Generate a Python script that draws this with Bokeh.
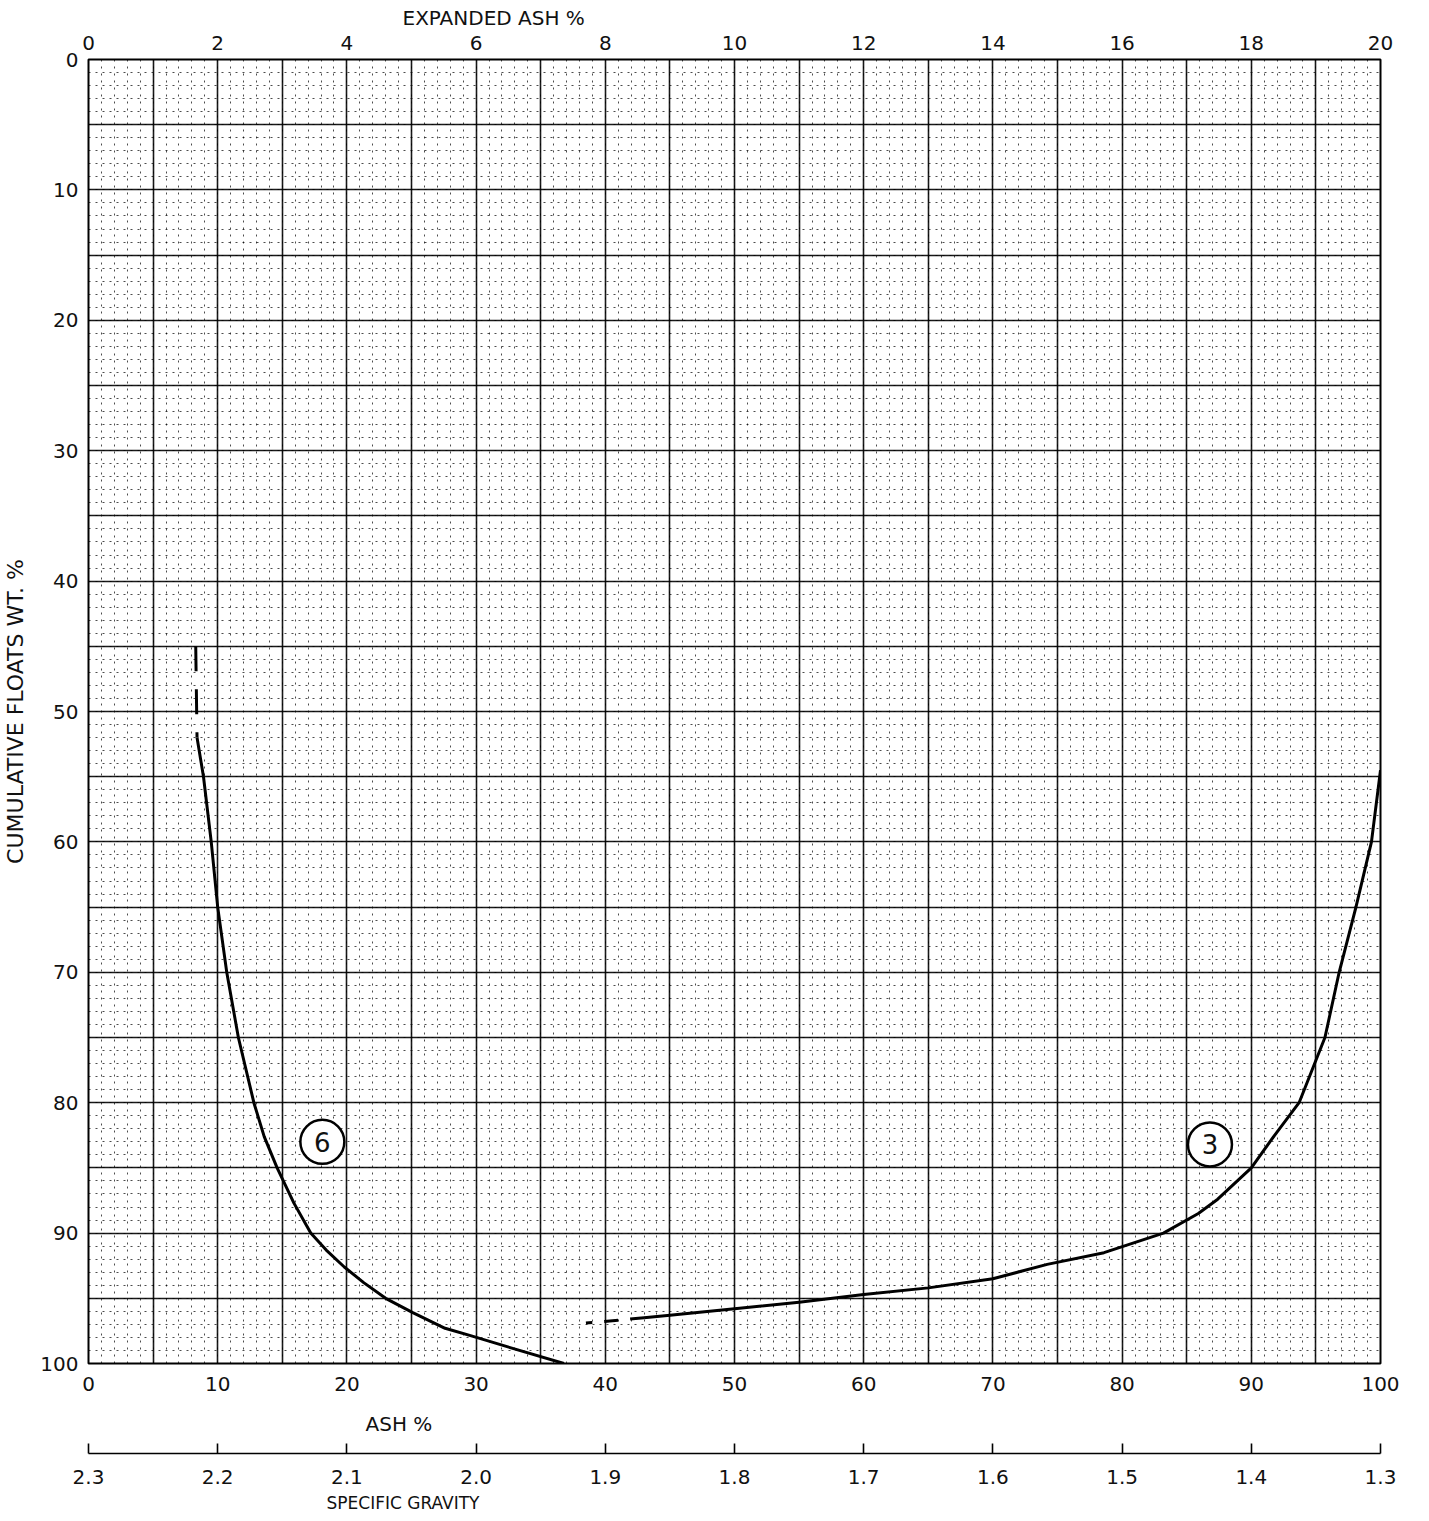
from bokeh.plotting import figure
from bokeh.models import (Range1d, LinearAxis, FixedTicker, SingleIntervalTicker,
                          NumeralTickFormatter, Title)
from bokeh.core.properties import value
from bokeh.embed import file_html
from bokeh.resources import INLINE

# ---- data ----
ash_ticks = [0, 10, 20, 30, 40, 50, 60, 70, 80, 90, 100]
cum_ticks = [0, 10, 20, 30, 40, 50, 60, 70, 80, 90, 100]
exp_ticks = [0, 2, 4, 6, 8, 10, 12, 14, 16, 18, 20]
sg_ticks = [2.3, 2.2, 2.1, 2.0, 1.9, 1.8, 1.7, 1.6, 1.5, 1.4, 1.3]

curve6_dash_ash = [8.3, 8.4]
curve6_dash_cum = [45, 52]
curve6_ash = [8.4, 8.9, 9.5, 10.0, 10.7, 11.6, 12.8, 13.6, 14.6, 15.9, 17.2, 18.4,
              19.8, 21.3, 23.0, 25.1, 27.6, 29.7, 32.7, 36.8]
curve6_cum = [52, 55, 60, 65, 70, 75, 80, 82.6, 85, 87.7, 90, 91.3,
              92.6, 93.8, 95, 96.1, 97.3, 97.9, 98.8, 100]

curve3_ash = [100, 99.3, 98.1, 96.8, 95.7, 93.7, 91.8, 90.0, 87.4, 85.9, 83.2, 78.6,
              74.2, 70, 65, 60, 55, 50, 45, 43]
curve3_cum = [54.5, 60, 65, 70, 75, 80, 82.5, 85, 87.4, 88.5, 90, 91.5,
              92.4, 93.5, 94.2, 94.7, 95.3, 95.8, 96.3, 96.5]
curve3_dash_ash = [43, 38.5]
curve3_dash_cum = [96.5, 96.9]

label_text = ["6", "3"]
label_ash = [18.1, 86.8]
label_cum = [83.0, 83.2]

FONT = "DejaVu Sans"
INK = "#111111"

p = figure(frame_width=1292, frame_height=1304,
           x_range=Range1d(0, 100), y_range=Range1d(100, 0),
           output_backend="svg", toolbar_location=None,
           min_border_left=78, min_border_top=58, min_border_right=36, min_border_bottom=140,
           background_fill_color="white", border_fill_color="white")
p.outline_line_color = "black"
p.outline_line_width = 2

p.extra_x_ranges = {"exp": Range1d(0, 20), "sg": Range1d(2.3, 1.3)}

# grids: major every 5, minor every 1
p.xgrid[0].ticker = SingleIntervalTicker(interval=5, num_minor_ticks=5)
p.ygrid[0].ticker = SingleIntervalTicker(interval=5, num_minor_ticks=5)
for g in (p.xgrid[0], p.ygrid[0]):
    g.grid_line_color = "black"
    g.grid_line_width = 1.6
    g.grid_line_alpha = 0.9
    g.minor_grid_line_color = "black"
    g.minor_grid_line_width = 1
    g.minor_grid_line_dash = "2 5"
    g.minor_grid_line_alpha = 0.7


def style_axis(ax, size="20px"):
    ax.major_label_text_font = FONT
    ax.major_label_text_font_size = size
    ax.major_label_text_color = INK
    ax.axis_label_text_font = FONT
    ax.axis_label_text_font_style = "normal"
    ax.axis_label_text_color = INK
    ax.minor_tick_in = 0
    ax.minor_tick_out = 0


# bottom ash axis
xa = p.xaxis[0]
xa.ticker = FixedTicker(ticks=ash_ticks)
style_axis(xa)
xa.axis_line_color = None
xa.major_tick_out = 0
xa.major_tick_in = 0
xa.major_label_standoff = 13

# left axis
ya = p.yaxis[0]
ya.ticker = FixedTicker(ticks=cum_ticks)
style_axis(ya)
ya.axis_line_color = None
ya.major_tick_out = 0
ya.major_tick_in = 0
ya.major_label_standoff = 10
ya.axis_label = "CUMULATIVE FLOATS WT. %"
ya.axis_label_text_font_size = "22px"
ya.axis_label_standoff = 9

# top expanded ash axis
top = LinearAxis(x_range_name="exp", ticker=FixedTicker(ticks=exp_ticks))
style_axis(top)
top.axis_line_color = None
top.major_tick_out = 0
top.major_tick_in = 0
top.major_label_standoff = 10
p.add_layout(top, "above")
p.add_layout(Title(text="EXPANDED ASH %", align="left", offset=314, standoff=6,
                   text_font=FONT, text_font_size="20px", text_font_style="normal",
                   text_color=INK), "above")

# below: ash title (with room under it), specific gravity axis, its title
p.add_layout(Title(text="ASH %", align="left", offset=277, standoff=34,
                   vertical_align="middle",
                   text_font=FONT, text_font_size="20px", text_font_style="normal",
                   text_color=INK), "below")
sg = LinearAxis(x_range_name="sg", ticker=FixedTicker(ticks=sg_ticks),
                formatter=NumeralTickFormatter(format="0.0"))
style_axis(sg)
sg.axis_line_color = "black"
sg.axis_line_width = 1.6
sg.major_tick_line_color = "black"
sg.major_tick_line_width = 1.6
sg.major_tick_in = 10
sg.major_tick_out = 0
sg.major_label_standoff = 16
p.add_layout(sg, "below")
p.add_layout(Title(text="SPECIFIC GRAVITY", align="left", offset=238, standoff=8,
                   text_font=FONT, text_font_size="17px", text_font_style="normal",
                   text_color=INK), "below")

# curves
p.line(curve6_dash_ash, curve6_dash_cum, line_color="black", line_width=3, line_dash="25 18")
p.line(curve6_ash, curve6_cum, line_color="black", line_width=3, line_join="round")
p.line(curve3_ash, curve3_cum, line_color="black", line_width=3, line_join="round")
p.line(curve3_dash_ash, curve3_dash_cum, line_color="black", line_width=3, line_dash="14 12")

# circled curve labels
p.scatter(label_ash, label_cum, marker="circle", size=44, fill_color="white",
          line_color="black", line_width=2.5)
p.text(label_ash, label_cum, text=label_text, text_font=value(FONT), text_font_size="26px",
       text_align="center", text_baseline="middle", text_color=INK)

open("out.html", "w").write(file_html(p, INLINE))
